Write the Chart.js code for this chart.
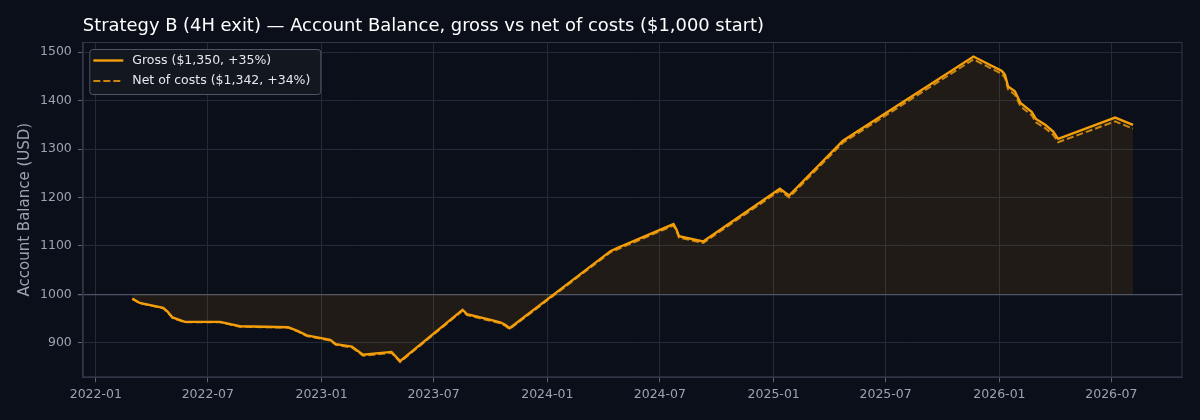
<!DOCTYPE html>
<html>
<head>
<meta charset="utf-8">
<script src="https://cdn.jsdelivr.net/npm/chart.js@4.4.1/dist/chart.umd.min.js"></script>
<style>
html, body { margin: 0; padding: 0; background: #0b0f19; }
#wrap { width: 1200px; height: 420px; }
</style>
</head>
<body>
<div id="wrap"><canvas id="grafico"></canvas></div>
<script>
// DADOS
var dates = ['2022-03-01','2022-03-13','2022-04-20','2022-04-27','2022-05-05','2022-05-25','2022-07-21','2022-08-22',
  '2022-11-08','2022-11-24','2022-12-08','2023-01-15','2023-01-24','2023-02-19','2023-03-09','2023-04-24',
  '2023-05-08','2023-08-17','2023-08-24','2023-09-25','2023-10-17','2023-10-25','2023-11-01','2024-04-12',
  '2024-04-22','2024-07-23','2024-07-28','2024-08-01','2024-09-09','2025-01-11','2025-01-26','2025-04-23',
  '2025-11-20','2026-01-05','2026-01-10','2026-01-15','2026-01-26','2026-02-04','2026-02-22','2026-03-01',
  '2026-03-16','2026-03-29','2026-04-06','2026-07-07','2026-08-05'];
var gross = [991,982,972,964,952,943,943,934,932,924,915,906,897,892,875,881,862,968,959,949,942,937,930,1089,
  1095,1145,1133,1120,1109,1218,1204,1317,1491,1461,1453,1429,1419,1395,1377,1362,1350,1336,1321,1365,1350];
var net = [990.5,981.5,971,963,951,942,942,933,931,923,913.5,904.5,895.5,890,873,879,860,966,957,947,940,935,928,1086.5,
  1092,1142,1130,1117,1106,1214,1200,1313,1485,1455,1447,1423,1412,1388,1370,1355,1343,1329,1314,1357,1342];
var xTicks = ['2022-01','2022-07','2023-01','2023-07','2024-01','2024-07','2025-01','2025-07','2026-01','2026-07'];
var yTicks = [900,1000,1100,1200,1300,1400,1500];
var start = 1000;
var titulo = 'Strategy B (4H exit) \u2014 Account Balance, gross vs net of costs ($1,000 start)';
var legendas = ['Gross ($1,350, +35%)', 'Net of costs ($1,342, +34%)'];

var T0 = Date.UTC(2022, 0, 1);
function dia(s) {
  var p = s.split('-');
  return (Date.UTC(+p[0], +p[1] - 1, +(p[2] || 1)) - T0) / 86400000;
}
function rotulo(v) {
  var d = new Date(T0 + v * 86400000);
  var m = d.getUTCMonth() + 1;
  return d.getUTCFullYear() + '-' + (m < 10 ? '0' : '') + m;
}

var grossPts = dates.map(function (d, i) { return { x: dia(d), y: gross[i] }; });
var netPts = dates.map(function (d, i) { return { x: dia(d), y: net[i] }; });

var gridCor = '#232a38';
var txtCor = '#9aa3b4';

// titulo, moldura e legenda
var extras = {
  id: 'extras',
  afterDraw: function (chart) {
    var c = chart.ctx, a = chart.chartArea;
    c.save();
    c.strokeStyle = '#2f3747';
    c.lineWidth = 1;
    c.strokeRect(a.left + 0.5, a.top + 0.5, a.right - a.left - 1, a.bottom - a.top - 1);

    c.fillStyle = '#ffffff';
    c.font = '17.9px "DejaVu Sans"';
    c.textBaseline = 'middle';
    c.fillText(titulo, a.left, 26);

    // legenda
    var bx = a.left + 6.5, by = a.top + 7, bw = 231, bh = 45;
    c.beginPath();
    c.roundRect(bx + 0.5, by + 0.5, bw, bh, 3);
    c.fillStyle = 'rgba(20,24,33,0.92)';
    c.fill();
    c.strokeStyle = '#4e5566';
    c.stroke();
    c.font = '12.5px "DejaVu Sans"';
    var ds = chart.data.datasets;
    for (var i = 0; i < 2; i++) {
      var yy = by + 11.5 + i * 20.4;
      c.beginPath();
      c.setLineDash(ds[i].borderDash || []);
      c.strokeStyle = ds[i].borderColor;
      c.lineWidth = ds[i].borderWidth;
      c.moveTo(bx + 4, yy);
      c.lineTo(bx + 34, yy);
      c.stroke();
      c.setLineDash([]);
      c.fillStyle = '#e6e8ee';
      c.fillText(legendas[i], bx + 43, yy);
    }
    c.restore();
  }
};

new Chart(document.getElementById('grafico'), {
  type: 'line',
  data: {
    datasets: [{
      label: legendas[0],
      data: grossPts,
      borderColor: '#f59e0b',
      borderWidth: 2.4,
      backgroundColor: 'rgba(245,158,11,0.09)',
      fill: { value: start },
      pointRadius: 0,
      tension: 0,
      order: 1
    }, {
      label: legendas[1],
      data: netPts,
      borderColor: '#c9850f',
      borderWidth: 2,
      borderDash: [7, 3],
      fill: false,
      pointRadius: 0,
      tension: 0,
      order: 2
    }]
  },
  options: {
    responsive: true,
    maintainAspectRatio: false,
    animation: false,
    layout: { padding: { top: 42, right: 17.5, bottom: 12.7, left: 16 } },
    plugins: {
      legend: { display: false },
      tooltip: { enabled: false }
    },
    scales: {
      x: {
        type: 'linear',
        min: -21,
        max: 1757,
        afterBuildTicks: function (ax) {
          ax.ticks = xTicks.map(function (t) { return { value: dia(t) }; });
        },
        ticks: {
          color: txtCor,
          font: { family: 'DejaVu Sans', size: 12.5 },
          maxRotation: 0,
          padding: 5,
          callback: function (v) { return rotulo(v); }
        },
        grid: { color: gridCor, tickLength: 5, tickColor: '#5a6274' },
        border: { color: '#2f3747' }
      },
      y: {
        min: 828.5,
        max: 1521,
        afterBuildTicks: function (ax) {
          ax.ticks = yTicks.map(function (t) { return { value: t }; });
        },
        ticks: {
          color: txtCor,
          font: { family: 'DejaVu Sans', size: 12.5 },
          padding: 6,
          callback: function (v) { return String(v); }
        },
        grid: {
          color: function (ctx) { return ctx.tick && ctx.tick.value === start ? '#4d5568' : gridCor; },
          lineWidth: function (ctx) { return ctx.tick && ctx.tick.value === start ? 1.3 : 1; },
          tickLength: 5,
          tickColor: '#5a6274'
        },
        border: { color: '#2f3747' },
        title: {
          display: true,
          text: 'Account Balance (USD)',
          color: txtCor,
          font: { family: 'DejaVu Sans', size: 15 },
          padding: { top: 0, bottom: 0 }
        }
      }
    }
  },
  plugins: [extras]
});
</script>
</body>
</html>
